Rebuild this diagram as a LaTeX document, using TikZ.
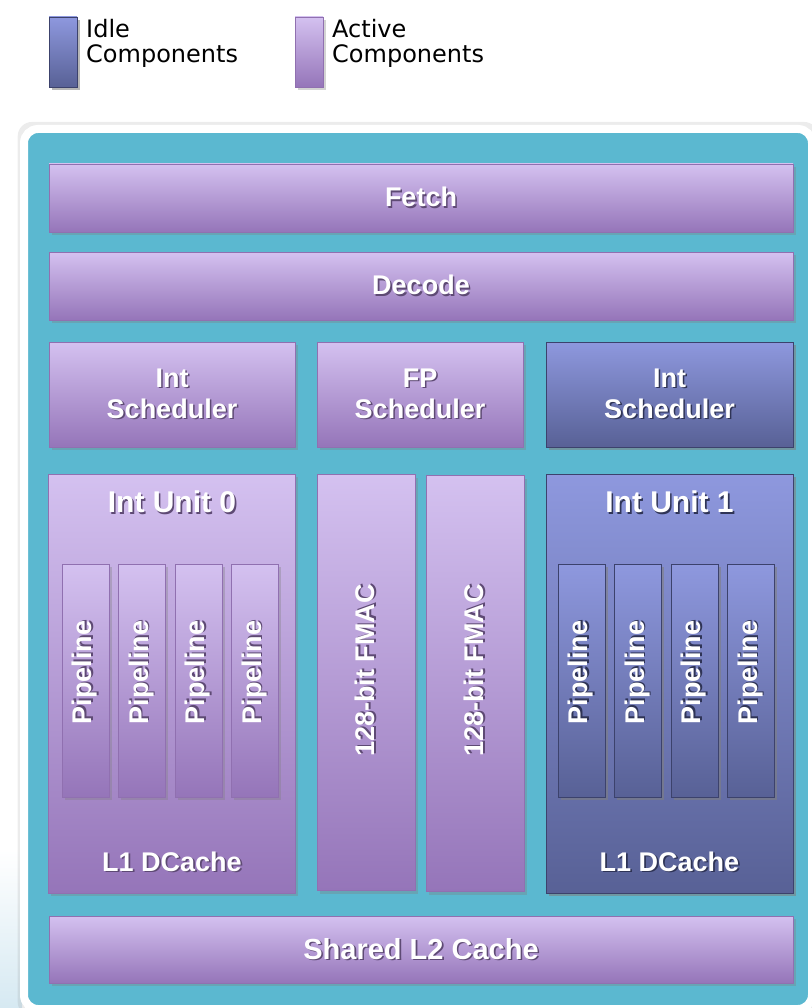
\documentclass[tikz,border=0pt]{standalone}
\usepackage{fontspec}
\setmainfont{Liberation Sans}
\newfontfamily\keyfont{DejaVu Sans}
\usetikzlibrary{shadows,positioning}

\definecolor{chip}{HTML}{5BB8D0}
\definecolor{bgblue}{HTML}{D6E9F2}
\definecolor{acttop}{HTML}{D4C1F0}
\definecolor{actbot}{HTML}{9575B9}
\definecolor{actline}{HTML}{9070B0}
\definecolor{actshadow}{HTML}{5E4A74}
\definecolor{idletop}{HTML}{8E98DE}
\definecolor{idlebot}{HTML}{586196}
\definecolor{idleline}{HTML}{3C426C}
\definecolor{idleshadow}{HTML}{2F3456}
\colorlet{txtshadow}{actshadow}

\newcommand{\blockfont}{\bfseries\fontsize{27}{31}\selectfont}
\newcommand{\titlefont}{\bfseries\fontsize{30}{33}\selectfont}
\newcommand{\shtxt}[1]{\leavevmode\rlap{\kern1.6pt\raisebox{-1.6pt}{\color{txtshadow}#1}}#1}

\tikzset{
  block/.style={draw=actline, line width=0.8pt, top color=acttop, bottom color=actbot,
    drop shadow={shadow xshift=2.5pt, shadow yshift=-3pt, opacity=0.35},
    text=white, font=\blockfont, align=center, inner sep=0pt,
    execute at begin node={\colorlet{txtshadow}{actshadow}}},
  idleblock/.style={block, draw=idleline, top color=idletop, bottom color=idlebot,
    execute at begin node={\colorlet{txtshadow}{idleshadow}}},
  tag/.style={text=white, font=\blockfont, inner sep=0pt,
    execute at begin node={\colorlet{txtshadow}{actshadow}}},
  idletag/.style={tag, execute at begin node={\colorlet{txtshadow}{idleshadow}}},
  wide/.style={minimum width=744pt, minimum height=68pt},
  sched/.style={minimum height=105pt},
  unitbox/.style={minimum width=247pt, minimum height=419pt},
  pipe/.style={minimum width=47pt, minimum height=233pt},
  fmacbox/.style={minimum width=98pt, minimum height=416pt},
  keybox/.style={minimum width=28pt, minimum height=70pt, inner sep=0pt},
  keytext/.style={anchor=north west, align=left, inner sep=0pt,
    font=\keyfont\fontsize{24}{25.5}\selectfont}
}

\begin{document}
\begin{tikzpicture}[x=1pt, y=-1pt]
    \useasboundingbox (0,0) rectangle (811,1008);

    % Slide background
    \shade[top color=white, bottom color=bgblue] (0,850) rectangle (22,1008);

    % Legend
    \node[block, idleblock, keybox] (idlekey) at (63,52) {};
    \node[keytext] (idletext) at (86,19) {Idle\\Components};
    \node[block, keybox] (activekey) at (309,52) {};
    \node[keytext] (activetext) at (332,19) {Active\\Components};

    % Die
    \node[draw=white, line width=8pt, fill=chip, rounded corners=14pt,
      minimum width=788pt, minimum height=880pt,
      drop shadow={shadow xshift=0pt, shadow yshift=0pt, shadow scale=1.016, opacity=0.15}]
      (die) at (418,569) {};

    % Front end
    \node[block, wide] (fetch) at (421,198) {\shtxt{Fetch}};
    \node[block, wide] (decode) at (421,286) {\shtxt{Decode}};

    % Schedulers
    \node[block, sched, minimum width=246pt] (isched0) at (172,394.5) {\shtxt{Int}\\\shtxt{Scheduler}};
    \node[block, sched, minimum width=206pt] (fpsched) at (420,394.5) {\shtxt{FP}\\\shtxt{Scheduler}};
    \node[block, idleblock, sched, minimum width=247pt] (isched1) at (669.5,394.5) {\shtxt{Int}\\\shtxt{Scheduler}};

    % Integer unit 0 (active)
    \node[block, unitbox] (iunit0) at (172,683.5) {};
    \node[tag, font=\titlefont, below=17pt of iunit0.north] (title0) {\shtxt{Int Unit 0}};
    \foreach \i in {0,...,3}
      \node[block, pipe] (pipeA\i) at (85.5+\i*56.5,680.5) {\rotatebox{90}{\hspace{16pt}\shtxt{Pipeline}}};
    \node[tag, above=20pt of iunit0.south] (dcache0) {\shtxt{L1 DCache}};

    % FP units
    \node[block, fmacbox] (fmac0) at (366,682.5) {\rotatebox{90}{\hspace{24pt}\shtxt{128-bit FMAC}}};
    \node[block, fmacbox] (fmac1) at (475,683.5) {\rotatebox{90}{\hspace{26pt}\shtxt{128-bit FMAC}}};

    % Integer unit 1 (idle)
    \node[block, idleblock, unitbox] (iunit1) at (669.5,683.5) {};
    \node[idletag, font=\titlefont, below=17pt of iunit1.north] (title1) {\shtxt{Int Unit 1}};
    \foreach \i in {0,...,3}
      \node[block, idleblock, pipe] (pipeB\i) at (581.5+\i*56.5,680.5) {\rotatebox{90}{\hspace{16pt}\shtxt{Pipeline}}};
    \node[idletag, above=20pt of iunit1.south] (dcache1) {\shtxt{L1 DCache}};

    % Shared cache
    \node[block, minimum width=744pt, minimum height=67pt, font=\bfseries\fontsize{29}{32}\selectfont]
      (l2) at (421,949.5) {\shtxt{Shared L2 Cache}};
\end{tikzpicture}
\end{document}
